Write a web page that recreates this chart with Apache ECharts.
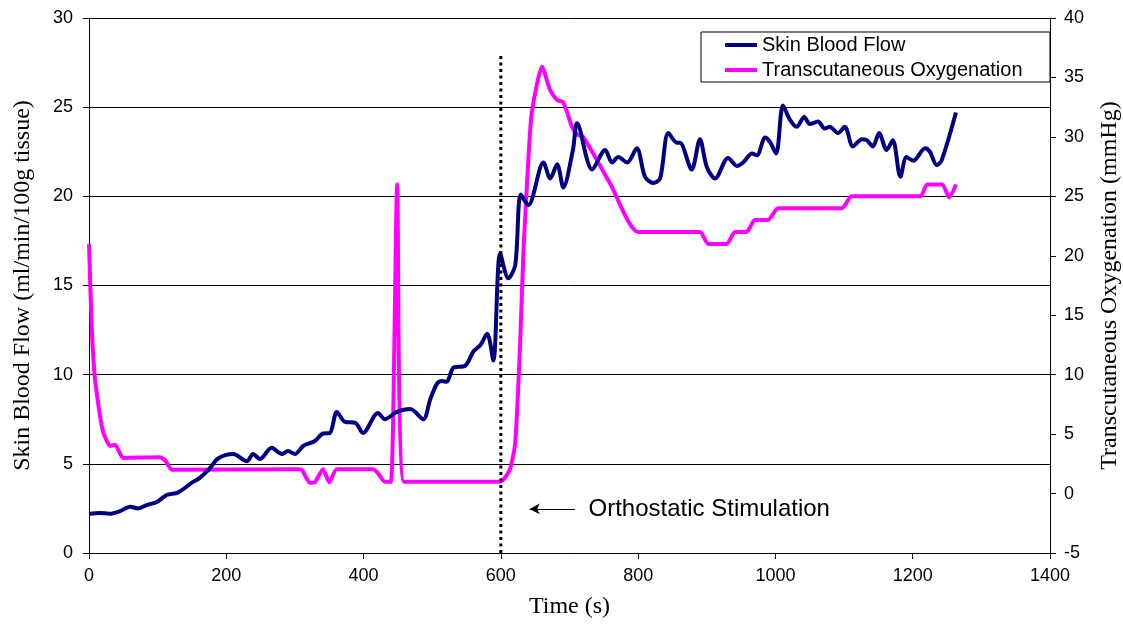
<!DOCTYPE html>
<html>
<head>
<meta charset="utf-8">
<script src="https://cdn.jsdelivr.net/npm/echarts@6/dist/echarts.min.js"></script>
<style>html,body{margin:0;padding:0;background:#fff;}#c{width:1123px;height:626px;}</style>
</head>
<body>
<div id="c"></div>
<script>
// ---- data ----
const sbfTime = [0,15,30,45,60,71,85,99,113,130,152,161,175,188,210,230,239,249,266,281,290,300,312,329,341,351,361,373,388,399,421,431,448,468,487,497,507,514,521,531,548,560,570,580,589,599,611,621,629,640,662,672,682,691,705,711,733,752,762,771,784,798,810,822,832,844,857,861,878,890,900,912,931,944,953,966,973,985,992,1001,1011,1021,1031,1042,1050,1062,1072,1079,1091,1101,1113,1126,1133,1142,1151,1162,1171,1182,1191,1201,1218,1225,1235,1242,1263];
const sbfValue = [2.2,2.25,2.2,2.35,2.6,2.5,2.7,2.86,3.25,3.4,4.0,4.2,4.7,5.3,5.55,5.15,5.55,5.27,5.9,5.55,5.72,5.55,6.0,6.28,6.7,6.73,7.9,7.35,7.3,6.73,7.85,7.5,7.9,8.07,7.5,8.6,9.5,9.65,9.6,10.4,10.5,11.3,11.65,12.3,10.8,16.8,15.4,16.15,20.1,19.5,21.9,21.0,21.8,20.5,22.6,24.1,21.5,22.6,21.9,22.2,21.9,22.7,21.1,20.75,21.0,23.55,23.0,23.0,21.5,23.2,21.65,21.0,22.15,21.7,21.9,22.4,22.3,23.3,23.05,22.4,25.1,24.3,23.9,24.45,24.05,24.2,23.8,23.9,23.55,23.9,22.8,23.2,23.15,22.8,23.55,22.6,23.15,21.1,22.2,22.0,22.7,22.5,21.75,22.0,24.7];
const tcTime = [0,4,9,20,31,38,50,103,111,121,303,310,322,329,341,350,361,414,421,431,440,449,459,599,613,621,628,633,640,645,660,672,682,691,704,711,720,760,800,890,902,929,941,958,970,989,1004,1097,1111,1211,1221,1243,1253,1263];
const tcValue = [21,14,9.5,5.3,4.0,4.1,3.0,3.05,2.8,2.0,2.05,2.0,0.9,0.95,2.05,0.95,2.05,2.05,1.7,1.0,1.0,26,1.0,1.0,2.0,4.3,12.5,20.5,28,32,35.9,33.9,33.1,32.9,30.8,30.2,30.0,26,22,22,21,21,22,22,23,23,24,24,25,25,26,26,24.9,26];
const xTicks = {min:0, max:1400, interval:200};
const yLeftTicks = {min:0, max:30, interval:5};
const yRightTicks = {min:-5, max:40, interval:5};
const stimulusTime = 600;
const stimulusLineTop = 27.9;
const arrowFrom = [708, 2.47];
const arrowTo = [642, 2.47];
const annotationPos = [727, 2.47];
const annotationText = 'Orthostatic Stimulation';
const seriesNames = ['Skin Blood Flow', 'Transcutaneous Oxygenation'];

const zip = (a, b) => a.map((t, i) => [t, b[i]]);
const chart = echarts.init(document.getElementById('c'), null, {renderer: 'canvas'});
const black = '#000';
const sans = 'Liberation Sans, Arial, sans-serif';
const serif = 'Liberation Serif, Times New Roman, serif';
const plain = v => String(v);

chart.setOption({
  animation: false,
  backgroundColor: '#fff',
  grid: {left: 89, right: 73, top: 18, bottom: 73, containLabel: false, outerBoundsMode: 'none'},
  graphic: [{
    type: 'rect', z: 3,
    shape: {x: 701, y: 32, width: 349, height: 50},
    style: {fill: '#fff', stroke: black, lineWidth: 1}
  }],
  legend: {
    data: seriesNames,
    orient: 'vertical',
    left: 701, top: 32,
    padding: [3, 10, 2, 24],
    itemGap: 5,
    itemWidth: 32, itemHeight: 4,
    icon: 'rect',
    z: 5,
    textStyle: {fontFamily: sans, fontSize: 20, color: black, lineHeight: 20}
  },
  xAxis: {
    type: 'value', min: xTicks.min, max: xTicks.max, interval: xTicks.interval,
    name: 'Time (s)', nameLocation: 'middle', nameGap: 42,
    nameTextStyle: {fontFamily: serif, fontSize: 24, color: black},
    axisLine: {show: true, lineStyle: {color: black, width: 1}},
    axisTick: {show: true, inside: false, length: 6, lineStyle: {color: black}},
    axisLabel: {fontFamily: sans, fontSize: 18, color: black, margin: 14, formatter: plain},
    splitLine: {show: false}
  },
  yAxis: [{
    type: 'value', min: yLeftTicks.min, max: yLeftTicks.max, interval: yLeftTicks.interval,
    name: 'Skin Blood Flow (ml/min/100g tissue)', nameLocation: 'middle', nameGap: 54,
    nameTextStyle: {fontFamily: serif, fontSize: 24, color: black},
    axisLine: {show: true, lineStyle: {color: black, width: 1}},
    axisTick: {show: true, inside: false, length: 6, lineStyle: {color: black}},
    axisLabel: {fontFamily: sans, fontSize: 18, color: black, margin: 16, formatter: plain},
    splitLine: {show: true, lineStyle: {color: black, width: 1}}
  }, {
    type: 'value', position: 'right', min: yRightTicks.min, max: yRightTicks.max, interval: yRightTicks.interval,
    name: 'Transcutaneous Oxygenation (mmHg)', nameLocation: 'middle', nameGap: 48,
    nameTextStyle: {fontFamily: serif, fontSize: 24, color: black},
    axisLine: {show: true, onZero: false, lineStyle: {color: black, width: 1}},
    axisTick: {show: true, inside: false, length: 6, lineStyle: {color: black}},
    axisLabel: {fontFamily: sans, fontSize: 18, color: black, margin: 14, formatter: plain},
    splitLine: {show: false}
  }],
  series: [{
    name: seriesNames[0], type: 'line', yAxisIndex: 0,
    data: zip(sbfTime, sbfValue),
    showSymbol: false, smooth: 0.3, z: 3,
    itemStyle: {color: '#000080'},
    lineStyle: {color: '#000080', width: 4}
  }, {
    name: seriesNames[1], type: 'line', yAxisIndex: 1,
    data: zip(tcTime, tcValue),
    showSymbol: false, smooth: 0.2, z: 2,
    itemStyle: {color: '#FF00FF'},
    lineStyle: {color: '#FF00FF', width: 4}
  }, {
    name: 'stimulus', type: 'line', yAxisIndex: 0,
    data: [[stimulusTime, 0], [stimulusTime, stimulusLineTop]],
    showSymbol: false, z: 4,
    lineStyle: {color: black, width: 3, type: [3, 3.5]}
  }, {
    name: 'annotation', type: 'scatter', yAxisIndex: 0,
    data: [annotationPos], symbolSize: 1,
    itemStyle: {color: 'rgba(0,0,0,0)', opacity: 1},
    label: {show: true, position: 'right', distance: 0, formatter: annotationText,
      fontFamily: sans, fontSize: 24, color: '#000', opacity: 1},
    markLine: {
      silent: true, symbol: ['none', 'arrow'], symbolSize: [8, 10],
      label: {show: false},
      lineStyle: {color: black, width: 1, type: 'solid'},
      data: [[{coord: arrowFrom}, {coord: arrowTo}]]
    }
  }]
});
</script>
</body>
</html>
